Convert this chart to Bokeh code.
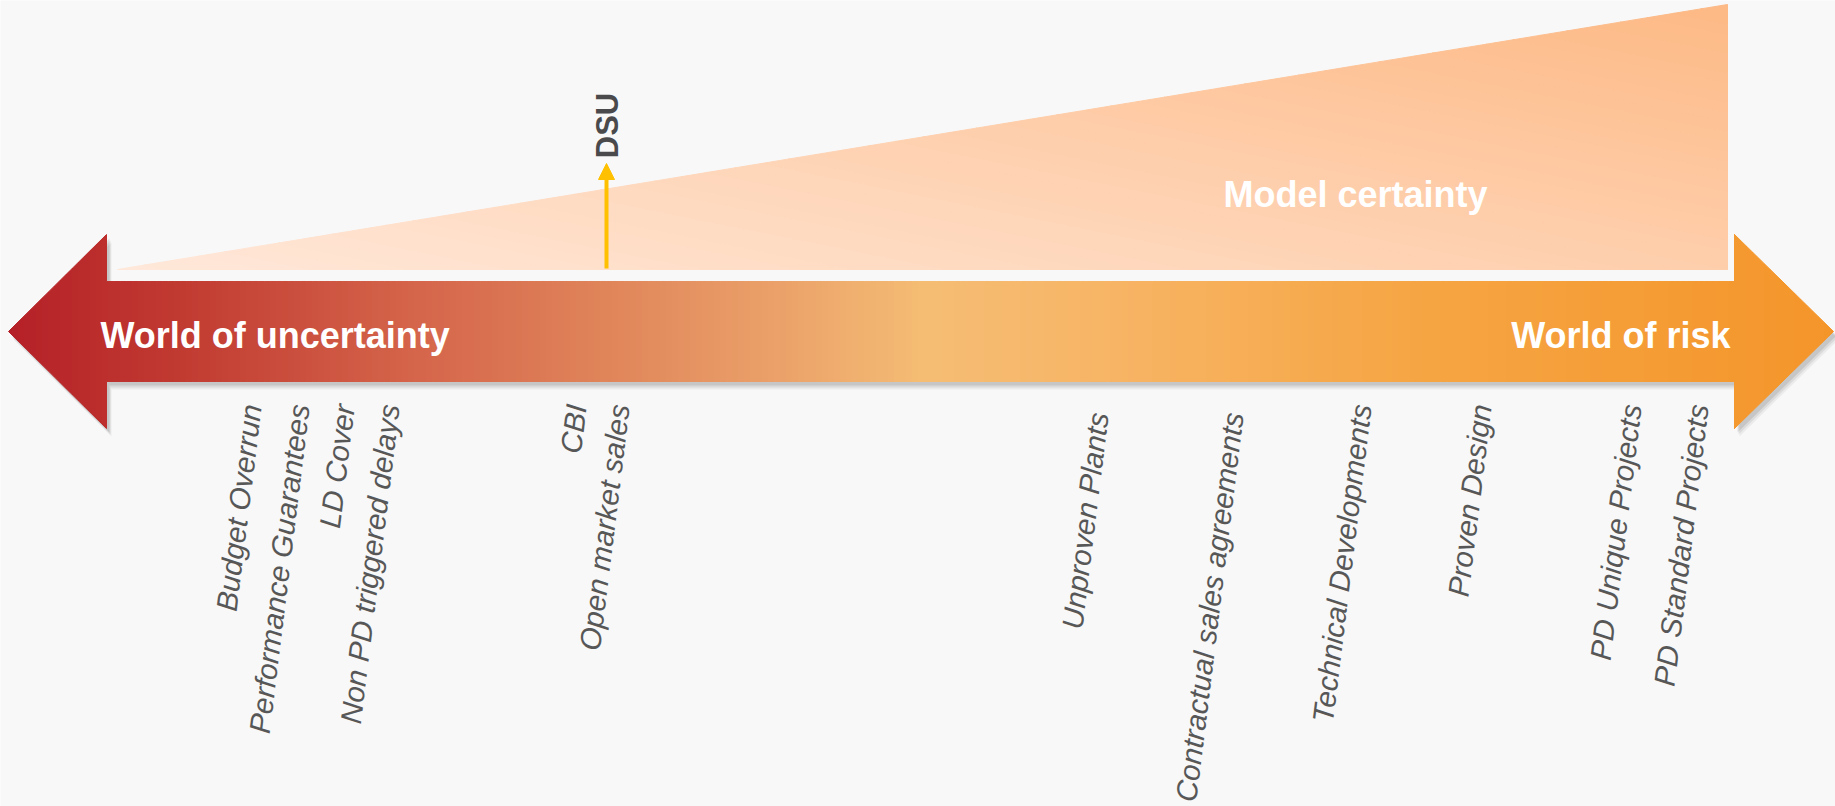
import math
from bokeh.plotting import figure
from bokeh.models import Range1d, Arrow, NormalHead
from bokeh.core.properties import value
from bokeh.embed import file_html
from bokeh.resources import INLINE

W, H = 1835, 806

# ---------------- data ----------------
labels = ["Budget Overrun", "Performance Guarantees", "LD Cover", "Non PD triggered delays",
          "CBI", "Open market sales", "Unproven  Plants", "Contractual sales  agreements",
          "Technical Developments", "Proven Design", "PD Unique Projects", "PD Standard Projects"]
label_pos = [260, 308, 353, 398, 585, 628, 1108, 1243, 1370, 1490, 1640, 1707]
left_title = "World of uncertainty"
right_title = "World of risk"
wedge_title = "Model certainty"
marker_label = "DSU"
marker_pos = 606

arrow_stops = [(0, "#B41F27"), (180, "#C13A31"), (420, "#D5664B"), (640, "#E28A5D"),
               (800, "#ECA56B"), (925, "#F5BD74"), (1100, "#F7B566"), (1400, "#F6A645"),
               (1835, "#F4952A")]
wedge_light, wedge_dark = "#FFE8DA", "#FDB985"

# bokeh's alphabetic baseline lands ~0.3 em below the expected spot; compensate
BASE_FIX = 0.31


def Y(yp):
    return H - yp


def hex2rgb(h):
    h = h.lstrip("#")
    return tuple(int(h[i:i + 2], 16) for i in (0, 2, 4))


def rgb2hex(c):
    return "#%02x%02x%02x" % tuple(int(round(v)) for v in c)


def lerp_col(c1, c2, t):
    a, b = hex2rgb(c1), hex2rgb(c2)
    return rgb2hex([a[i] + (b[i] - a[i]) * t for i in range(3)])


def stop_color(stops, x):
    if x <= stops[0][0]:
        return stops[0][1]
    for (x0, c0), (x1, c1) in zip(stops[:-1], stops[1:]):
        if x0 <= x <= x1:
            return lerp_col(c0, c1, (x - x0) / (x1 - x0))
    return stops[-1][1]


def clip(poly, a, b, c):
    out = []
    n = len(poly)
    for i in range(n):
        P, Q = poly[i], poly[(i + 1) % n]
        fp = a * P[0] + b * P[1] + c
        fq = a * Q[0] + b * Q[1] + c
        if fp >= 0:
            out.append(P)
        if (fp >= 0) != (fq >= 0):
            t = fp / (fp - fq)
            out.append((P[0] + t * (Q[0] - P[0]), P[1] + t * (Q[1] - P[1])))
    return out


def band(poly, a, b, t0, t1):
    q = clip(poly, a, b, -t0)
    if len(q) < 3:
        return []
    return clip(q, -a, -b, t1)


def shift_up(x, y, ang, size):
    d = BASE_FIX * size
    return x - d * math.sin(ang), y + d * math.cos(ang)


p = figure(width=W, height=H, x_range=Range1d(0, W), y_range=Range1d(0, H),
           output_backend="svg", toolbar_location=None, min_border=0)
p.axis.visible = False
p.grid.visible = False
p.outline_line_color = None
p.background_fill_color = "#F8F8F8"
p.border_fill_color = "#F8F8F8"

# ---------------- wedge (model certainty) ----------------
tri = [(117, Y(269)), (1727, Y(4)), (1727, Y(269))]
ga = 0.55 / 1610.0
gb = 0.45 / 265.0
gc = -ga * 117 - gb * Y(269)
nb = 60
xs, ys, cols = [], [], []
for k in range(nb):
    t0, t1 = k / nb, (k + 1) / nb
    if k == 0:
        t0 = -1
    if k == nb - 1:
        t1 = 2
    q = band(tri, ga, gb, t0 - gc, t1 - gc)
    if len(q) >= 3:
        xs.append([pt[0] for pt in q])
        ys.append([pt[1] for pt in q])
        cols.append(lerp_col(wedge_light, wedge_dark, (k + 0.5) / nb))
p.patches(xs, ys, fill_color=cols, line_color=cols, line_width=1)

# ---------------- main double arrow ----------------
arrow_pix = [(8, 331), (106, 234), (106, 281), (1734, 281), (1734, 234), (1833, 331),
             (1734, 428), (1734, 381), (106, 381), (106, 428)]
arrow_poly = [(x, Y(y)) for x, y in arrow_pix]

for dx, dy, al in [(5, 8, 0.05), (4, 6, 0.07), (3, 4, 0.09)]:
    p.patch([x + dx for x, _ in arrow_poly], [y - dy for _, y in arrow_poly],
            fill_color="#000000", fill_alpha=al, line_color=None)

step = 6
xs, ys, cols = [], [], []
x = 0
while x < W:
    q = band(arrow_poly, 1.0, 0.0, x, x + step)
    if len(q) >= 3:
        xs.append([pt[0] for pt in q])
        ys.append([pt[1] for pt in q])
        cols.append(stop_color(arrow_stops, x + step / 2))
    x += step
p.patches(xs, ys, fill_color=cols, line_color=cols, line_width=1)

# ---------------- titles ----------------
tsz = 36
for txt, tx, ty, al in [(left_title, 100, 346, "left"), (right_title, 1730, 346, "right"),
                        (wedge_title, 1223, 205, "left")]:
    sx, sy = shift_up(tx, Y(ty), 0.0, tsz)
    p.text(x=[sx], y=[sy], text=[txt], text_font=value("Liberation Sans"),
           text_font_style="bold", text_font_size=f"{tsz}px", text_color="#FFFFFF",
           text_align=al, text_baseline="alphabetic")

# ---------------- DSU marker ----------------
p.add_layout(Arrow(x_start=marker_pos, y_start=Y(268), x_end=marker_pos, y_end=Y(163),
                   line_color="#FFC000", line_width=4,
                   end=NormalHead(size=16, fill_color="#FFC000", line_color="#FFC000")))
dsz = 31
sx, sy = shift_up(marker_pos + 11, Y(125), math.pi / 2, dsz)
p.text(x=[sx], y=[sy], text=[marker_label], angle=math.pi / 2,
       text_font=value("Liberation Sans"), text_font_style="bold", text_font_size=f"{dsz}px",
       text_color="#4A4A4C", text_align="center", text_baseline="alphabetic")

# ---------------- rotated category labels ----------------
ang = math.radians(83)
lsz = 29.5
lx, ly = [], []
for xp in label_pos:
    a, b = shift_up(xp, Y(405), ang, lsz)
    lx.append(a)
    ly.append(b)
p.text(x=lx, y=ly, text=labels, angle=ang,
       text_font=value("Liberation Sans"), text_font_style="italic", text_font_size=f"{lsz}px",
       text_color="#575757", text_align="right", text_baseline="alphabetic")

open("out.html", "w").write(file_html(p, INLINE))
